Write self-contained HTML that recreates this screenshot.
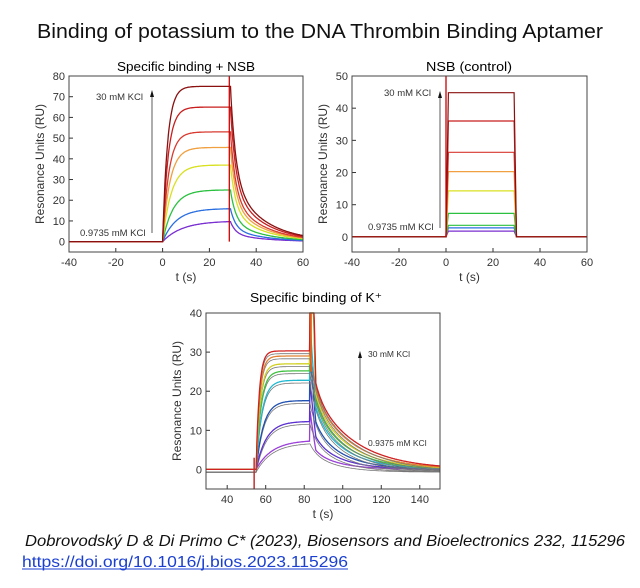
<!DOCTYPE html>
<html><head><meta charset="utf-8"><style>
html,body{margin:0;padding:0;background:#fff;width:640px;height:588px;overflow:hidden}
svg text{font-family:"Liberation Sans",sans-serif}
</style></head><body>
<svg id="s" width="640" height="588" viewBox="0 0 640 588" xmlns="http://www.w3.org/2000/svg">
<rect width="640" height="588" fill="#fff"/>
<text x="320" y="38" font-size="20" text-anchor="middle" textLength="566" lengthAdjust="spacingAndGlyphs" fill="#111">Binding of potassium to the DNA Thrombin Binding Aptamer</text>
<text x="186" y="71" font-size="13" text-anchor="middle" textLength="138" lengthAdjust="spacingAndGlyphs">Specific binding + NSB</text>
<text x="469" y="71" font-size="13" text-anchor="middle" textLength="86" lengthAdjust="spacingAndGlyphs">NSB (control)</text>
<text x="316" y="302" font-size="13" text-anchor="middle" textLength="132" lengthAdjust="spacingAndGlyphs">Specific binding of K⁺</text>
<g id="g"></g>
<text x="25" y="546" font-size="16" font-style="italic" textLength="600" lengthAdjust="spacingAndGlyphs" fill="#111">Dobrovodský D  &amp; Di Primo C* (2023), Biosensors and Bioelectronics 232, 115296</text>
<text x="22" y="567" font-size="16" textLength="326" lengthAdjust="spacingAndGlyphs" fill="#1a3fd0">https://doi.org/10.1016/j.bios.2023.115296</text>
<line x1="22" y1="569" x2="348" y2="569" stroke="#1a3fd0" stroke-width="1"/>
</svg>
<script>
const g=document.getElementById('g');let h='';
function ax(o){
 const {x0,x1,y0,y1,t0,t1,v0,v1,xt,yt}=o;
 const X=t=>x0+(t-t0)/(t1-t0)*(x1-x0), Y=v=>y1-(v-v0)/(v1-v0)*(y1-y0);
 o.X=X;o.Y=Y;
 xt.forEach(t=>{h+=`<line x1="${X(t)}" y1="${y1}" x2="${X(t)}" y2="${y1-4}" stroke="#333"/><text x="${X(t)}" y="${y1+14}" font-size="11" text-anchor="middle" fill="#333">${t}</text>`});
 yt.forEach(v=>{h+=`<line x1="${x0}" y1="${Y(v)}" x2="${x0+4}" y2="${Y(v)}" stroke="#333"/><text x="${x0-4}" y="${Y(v)+4}" font-size="11" text-anchor="end" fill="#333">${v}</text>`});
 h+=`<text x="${(x0+x1)/2}" y="${y1+29}" font-size="12" text-anchor="middle" fill="#333">t (s)</text>`;
 h+=`<text transform="translate(${x0-25},${(y0+y1)/2}) rotate(-90)" font-size="12" text-anchor="middle" fill="#333">Resonance Units (RU)</text>`;
 return o;
}
function path(o,f,col,w){let d='';for(let t=o.t0;t<=o.t1;t+=0.25){let v=f(t);v=Math.max(o.v0,Math.min(o.v1,v));d+=(d?'L':'M')+o.X(t).toFixed(1)+','+o.Y(v).toFixed(1)}h+=`<path d="${d}" fill="none" stroke="${col}" stroke-width="${w||1.3}"/>`}
function box(o){h+=`<rect x="${o.x0}" y="${o.y0}" width="${o.x1-o.x0}" height="${o.y1-o.y0}" fill="none" stroke="#444" stroke-width="1"/>`}
const cols=['#7a2fd0','#2a6fe0','#2cc040','#d8e020','#f0a040','#d83a30','#c81e1e','#8a1010'];
// chart 1
let a=ax({x0:69,x1:303,y0:76,y1:252,t0:-40,t1:60,v0:-5,v1:80,xt:[-40,-20,0,20,40,60],yt:[0,10,20,30,40,50,60,70,80]});
const L1=[10,16,25,37,45.5,53,65,75];
L1.forEach((R,i)=>{const k=0.12+0.05*i;path(a,t=>{if(t<0)return 0;if(t<29)return R*(1-Math.exp(-k*t));const r=R*(1-Math.exp(-k*29));const dt=t-29;return r*(0.6*Math.exp(-0.45*dt)+0.4*Math.exp(-0.075*dt))},cols[i])});
h+=`<line x1="${a.X(28.5)}" y1="${a.Y(0)}" x2="${a.X(28.5)}" y2="${a.Y(80)}" stroke="#c00" stroke-width="1.3"/>`;
box(a);
h+=`<line x1="152" y1="233" x2="152" y2="95" stroke="#333" stroke-width="0.8"/><polygon points="150,97 154,97 152,90" fill="#111"/>`;
h+=`<text x="96" y="100" font-size="9.5" fill="#333">30 mM KCl</text><text x="80" y="236" font-size="9.5" fill="#333">0.9735 mM KCl</text>`;
// chart 2
let b=ax({x0:352,x1:587,y0:76,y1:252,t0:-40,t1:60,v0:-4.7,v1:50,xt:[-40,-20,0,20,40,60],yt:[0,10,20,30,40,50]});
const L2=[1.8,2.8,3.6,7.3,14.3,20.3,26.3,36,44.8];
L2.forEach((R,i)=>{path(b,t=>{if(t<0)return 0;if(t<1)return R*t;if(t<29)return R;if(t<30)return R*(30-t);return 0},cols[Math.min(7,i>2?i-1:i)],1.2)});
h+=`<line x1="${b.X(0)}" y1="${b.Y(0)}" x2="${b.X(0)}" y2="${b.Y(50)}" stroke="#c00" stroke-width="1.3"/>`;
box(b);
h+=`<line x1="440" y1="228" x2="440" y2="96" stroke="#333" stroke-width="0.8"/><polygon points="438,98 442,98 440,91" fill="#111"/>`;
h+=`<text x="384" y="96" font-size="9.5" fill="#333">30 mM KCl</text><text x="368" y="230" font-size="9.5" fill="#333">0.9735 mM KCl</text>`;
// chart 3
let c=ax({x0:206,x1:440,y0:313,y1:489,t0:29,t1:150.5,v0:-5,v1:40,xt:[40,60,80,100,120,140],yt:[0,10,20,30,40]});
const L3=[7.5,12.3,17.6,22.8,25.2,27,29,30.3];
const c3=['#9a40d8','#5a30d0','#2050b0','#20b8d0','#40c040','#d0d020','#e08030','#d02020'];
L3.forEach((R,i)=>{const k=0.12+0.07*i;const ks=0.075-0.004*i;const f=(t)=>{if(t<55)return 0;if(t<83)return R*(1-Math.exp(-k*(t-55)));const r=R*(1-Math.exp(-k*28));const dt=t-83;return r*(0.3*Math.exp(-0.3*dt)+0.7*Math.exp(-ks*dt))};
 path(c,t=>f(t)-0.7,'#777',0.8);
 path(c,t=>{let v=f(t);if(t>=83&&t<86)v+= (R*0.5+4)*(1-(t-83)/3)*(i>3?3:1);return v},c3[i],1.3)});
h+=`<line x1="${c.X(54)}" y1="${c.Y(-5)}" x2="${c.X(54)}" y2="${c.Y(3)}" stroke="#c03030" stroke-width="1.5"/>`;
h+=`<line x1="${c.X(83.5)}" y1="${c.Y(40)}" x2="${c.X(83.5)}" y2="${c.Y(25)}" stroke="#e06020" stroke-width="1.8"/>`;
box(c);
h+=`<line x1="360" y1="440" x2="360" y2="356" stroke="#333" stroke-width="0.8"/><polygon points="358,358 362,358 360,351" fill="#111"/>`;
h+=`<text x="368" y="357" font-size="8.5" fill="#333">30 mM KCl</text><text x="368" y="446" font-size="8.5" fill="#333">0.9375 mM KCl</text>`;
g.innerHTML=h;
</script>
</body></html>
